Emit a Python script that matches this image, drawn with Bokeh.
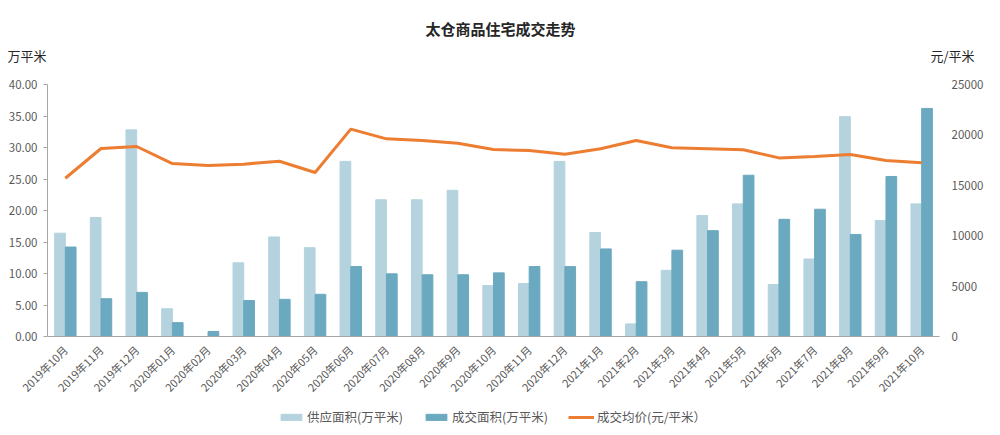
from bokeh.plotting import figure
from bokeh.models import (Range1d, LinearAxis, FixedTicker, NumeralTickFormatter,
                          Legend, LegendItem, Label, ColumnDataSource)
from bokeh.transform import dodge
from bokeh.embed import file_html
from bokeh.resources import INLINE
import math

categories = ["2019年10月", "2019年11月", "2019年12月", "2020年01月", "2020年02月", "2020年03月",
              "2020年04月", "2020年05月", "2020年06月", "2020年07月", "2020年08月", "2020年9月",
              "2020年10月", "2020年11月", "2020年12月", "2021年1月", "2021年2月", "2021年3月",
              "2021年4月", "2021年5月", "2021年6月", "2021年7月", "2021年8月", "2021年9月", "2021年10月"]
supply = [16.4, 18.9, 32.8, 4.4, 0.0, 11.7, 15.8, 14.1, 27.8, 21.7, 21.7, 23.2, 8.1,
          8.4, 27.8, 16.5, 2.0, 10.5, 19.2, 21.05, 8.25, 12.3, 34.9, 18.4, 21.05]
traded = [14.2, 6.0, 7.0, 2.2, 0.8, 5.7, 5.9, 6.7, 11.1, 9.95, 9.8, 9.8, 10.1,
          11.1, 11.1, 13.9, 8.7, 13.7, 16.8, 25.6, 18.6, 20.2, 16.2, 25.4, 36.2]
price = [15700, 18650, 18850, 17160, 16960, 17100, 17390, 16270, 20570, 19610, 19440, 19180, 18550,
         18450, 18090, 18620, 19440, 18720, 18620, 18520, 17720, 17860, 18060, 17460, 17230]
left_ticks = [0, 5, 10, 15, 20, 25, 30, 35, 40]
right_ticks = [0, 5000, 10000, 15000, 20000, 25000]
title_text = "太仓商品住宅成交走势"
left_unit = "万平米"
right_unit = "元/平米"
series_names = ["供应面积(万平米)", "成交面积(万平米)", "成交均价(元/平米）"]

FONT = "Noto Sans CJK SC"
GREY = "#595959"
W, H = 1000, 435
# plot-area placement inside the canvas (pixels)
PL, PR, PT, PB = 47, 939, 84, 336
LMAX, RMAX = 40, 25000

n = len(categories)
idx = list(range(n))
cw = (PR - PL) / n
x_start = -PL / cw - 0.5
x_end = (W - PL) / cw - 0.5
ly = (PB - PT) / LMAX
ry = (PB - PT) / RMAX

src = ColumnDataSource(dict(x=idx, supply=supply, traded=traded, price=price))

p = figure(width=W, height=H, output_backend="svg", toolbar_location=None,
           x_range=Range1d(x_start, x_end),
           y_range=Range1d(-(H - PB) / ly, LMAX + PT / ly),
           x_axis_location=None, y_axis_location=None, min_border=0)
p.extra_y_ranges = {"price": Range1d(-(H - PB) / ry, RMAX + PT / ry)}
p.outline_line_color = None
p.xgrid.grid_line_color = None
p.ygrid.grid_line_color = None

r1 = p.vbar(x=dodge("x", -0.15), top="supply", width=0.3, source=src,
            fill_color="#b4d3de", line_color="#b4d3de")
r2 = p.vbar(x=dodge("x", 0.15), top="traded", width=0.3, source=src,
            fill_color="#6aa9bf", line_color="#6aa9bf")
r3 = p.line(x="x", y="price", source=src, y_range_name="price", line_color="#ed7d31", line_width=3)

ya = LinearAxis(ticker=FixedTicker(ticks=left_ticks), formatter=NumeralTickFormatter(format="0.00"),
                fixed_location=-0.5, bounds=(0, LMAX))
ya.axis_line_color = "#a6a6a6"
ya.major_tick_line_color = "#a6a6a6"
ya.major_tick_out = 4
ya.major_tick_in = 0
ya.minor_tick_line_color = None
ya.major_label_text_font = FONT
ya.major_label_text_font_size = "11.5px"
ya.major_label_text_color = GREY
ya.major_label_standoff = 6
p.add_layout(ya, "left")

ra = LinearAxis(y_range_name="price", ticker=FixedTicker(ticks=right_ticks),
                fixed_location=n - 0.5, bounds=(0, RMAX))
ra.axis_line_color = None
ra.major_tick_line_color = None
ra.minor_tick_line_color = None
ra.major_tick_out = 0
ra.major_label_text_font = FONT
ra.major_label_text_font_size = "11.5px"
ra.major_label_text_color = GREY
ra.major_label_standoff = 12
p.add_layout(ra, "right")

xa = LinearAxis(ticker=FixedTicker(ticks=idx), fixed_location=0, bounds=(-0.5, n - 0.5),
                major_label_overrides={i: c for i, c in zip(idx, categories)})
xa.axis_line_color = "#a6a6a6"
xa.major_tick_line_color = None
xa.minor_tick_line_color = None
xa.major_tick_out = 0
xa.major_label_orientation = math.pi / 4
xa.major_label_text_font = FONT
xa.major_label_text_font_size = "11px"
xa.major_label_text_color = GREY
xa.major_label_standoff = 11
p.add_layout(xa, "below")

legend = Legend(items=[LegendItem(label=series_names[0], renderers=[r1]),
                       LegendItem(label=series_names[1], renderers=[r2]),
                       LegendItem(label=series_names[2], renderers=[r3])],
                orientation="horizontal", location=(278, 9))
legend.padding = 0
legend.margin = 0
legend.spacing = 20
legend.border_line_color = None
legend.background_fill_alpha = 0
legend.glyph_width = 26
legend.glyph_height = 8
legend.label_standoff = 3
legend.label_text_font = FONT
legend.label_text_font_size = "12.5px"
legend.label_text_color = GREY
p.add_layout(legend, "center")

p.add_layout(Label(x=500, y=H - 28, x_units="screen", y_units="screen", text=title_text,
                   text_align="center", text_baseline="middle", text_font=FONT,
                   text_font_size="15px", text_font_style="bold", text_color="#262626"))
p.add_layout(Label(x=7, y=H - 55, x_units="screen", y_units="screen", text=left_unit,
                   text_align="left", text_baseline="middle", text_font=FONT,
                   text_font_size="13px", text_color="#262626"))
p.add_layout(Label(x=930, y=H - 55, x_units="screen", y_units="screen", text=right_unit,
                   text_align="left", text_baseline="middle", text_font=FONT,
                   text_font_size="13px", text_color="#262626"))

open("out.html", "w").write(file_html(p, INLINE))
